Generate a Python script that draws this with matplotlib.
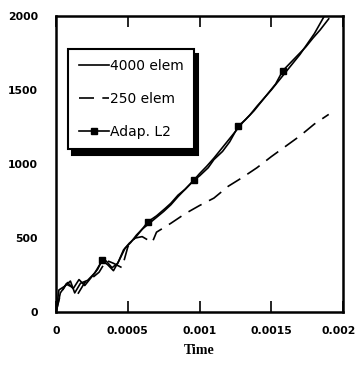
import matplotlib.pyplot as plt

# 4000 elementos (solução fina)
t_fino = [0, 0.00002, 0.00006, 0.0001, 0.00013, 0.00017, 0.00022, 0.00027, 0.00031,
          0.00035, 0.00039, 0.00043, 0.00047, 0.00051, 0.00055, 0.0006, 0.00065,
          0.0007, 0.00075, 0.0008, 0.00085, 0.0009, 0.00095, 0.001, 0.00105, 0.0011,
          0.00115, 0.0012, 0.00125, 0.0013, 0.00135, 0.0014, 0.0015, 0.0016, 0.0017,
          0.0018, 0.00187]
v_fino = [0, 150, 175, 210, 130, 195, 215, 265, 330, 345, 300, 330, 420, 465, 500,
          560, 600, 640, 680, 725, 780, 830, 880, 935, 985, 1040, 1100, 1160, 1220,
          1280, 1330, 1390, 1500, 1620, 1740, 1880, 2000]

# 250 elementos (malha grossa)
t_grosso = [0, 0.00003, 0.00007, 0.00011, 0.00015, 0.0002, 0.00025, 0.0003, 0.00035,
            0.0004, 0.00046, 0.0005, 0.00055, 0.0006, 0.00067, 0.0007, 0.0008, 0.0009,
            0.001, 0.0011, 0.0012, 0.0013, 0.0014, 0.0015, 0.0016, 0.0017, 0.0018, 0.0019]
v_grosso = [0, 120, 190, 170, 120, 200, 230, 270, 350, 330, 300, 440, 500, 510, 470,
            540, 600, 665, 720, 770, 850, 910, 975, 1050, 1120, 1190, 1270, 1335]

# Adaptativo L2
t_adap = [0, 0.00003, 0.00008, 0.00012, 0.00016, 0.0002, 0.00025, 0.00029, 0.00032,
          0.00036, 0.0004, 0.00044, 0.00048, 0.00052, 0.00056, 0.0006, 0.00064, 0.0007,
          0.00076, 0.0008, 0.00085, 0.0009, 0.00096, 0.001, 0.00106, 0.0011, 0.00116,
          0.00121, 0.00127, 0.00132, 0.00138, 0.00143, 0.00148, 0.00153, 0.00158,
          0.00163, 0.00168, 0.00174, 0.00179, 0.00184, 0.0019]
v_adap = [0, 130, 200, 160, 220, 180, 240, 290, 350, 320, 280, 350, 430, 470, 520,
          560, 610, 650, 700, 735, 790, 830, 890, 920, 975, 1030, 1085, 1150, 1255,
          1300, 1360, 1420, 1480, 1540, 1630, 1680, 1730, 1790, 1850, 1905, 1980]
marcas_adap = [8, 16, 22, 28, 34]

x_ticks = [0, 0.0005, 0.001, 0.0015, 0.002]
x_labels = ['0', '0.0005', '0.001', '0.0015', '']
y_ticks = [0, 500, 1000, 1500, 2000]

fig = plt.figure(figsize=(3.57, 3.69), dpi=100)
ax = fig.add_axes([0.157, 0.154, 0.804, 0.803])

ax.plot(t_fino, v_fino, '-', color='black', linewidth=1.2, label='4000 elem')
ax.plot(t_grosso, v_grosso, color='black', linewidth=1.2, dashes=(9, 5), label='250 elem')
ax.plot(t_adap, v_adap, '-', color='black', linewidth=1.2, marker='s', markersize=4,
        markevery=marcas_adap, label='Adap. L2')

ax.set_xlim(0, 0.002)
ax.set_ylim(0, 2000)
ax.set_xticks(x_ticks)
ax.set_xticklabels(x_labels)
ax.set_yticks(y_ticks)

for lab in ax.get_xticklabels() + ax.get_yticklabels():
    lab.set_fontfamily('DejaVu Sans')
    lab.set_fontweight('bold')
    lab.set_fontsize(7.8)

# o último rótulo encosta na borda: escrito à parte, um pouco à esquerda
ax.annotate('0.002', xy=(0.002, 0), xycoords=('data', 'axes fraction'),
            xytext=(-3, -10), textcoords='offset points', ha='center', va='top',
            family='DejaVu Sans', weight='bold', fontsize=7.8)

ax.tick_params(axis='x', direction='in', length=8, width=1.2, top=True, pad=10)
ax.tick_params(axis='y', length=0, pad=13)
for s in ax.spines.values():
    s.set_linewidth(1.8)

ax.set_xlabel('Time', family=['Liberation Serif', 'DejaVu Serif'], weight='bold', fontsize=10, labelpad=6)

leg = ax.legend(loc='upper left', bbox_to_anchor=(0.042, 0.889), borderaxespad=0,
                fancybox=False, edgecolor='black', framealpha=1,
                shadow={'color': 'black', 'alpha': 1, 'ox': 3, 'oy': -4},
                handlelength=2.2, handletextpad=0.05, labelspacing=1.35,
                borderpad=0.75, prop={'size': 10})
leg.get_frame().set_linewidth(1.5)

plt.savefig('out.png', dpi=100)
